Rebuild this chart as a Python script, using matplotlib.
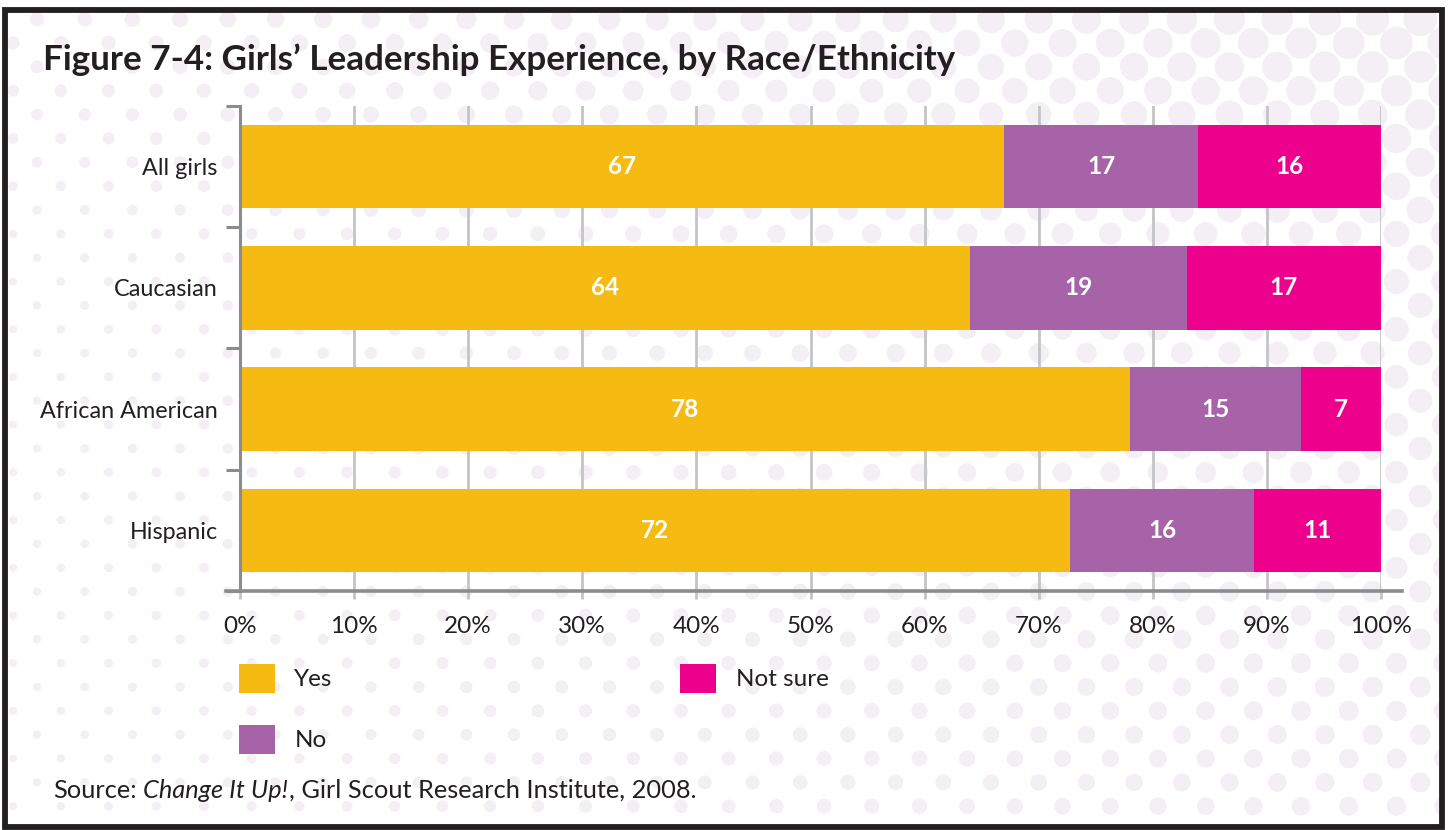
import numpy as np
import matplotlib
matplotlib.use("Agg")
import matplotlib.pyplot as plt
from matplotlib.patches import Rectangle

# data
groups = ["All girls", "Caucasian", "African American", "Hispanic"]
yes = [67, 64, 78, 72]
no = [17, 19, 15, 16]
not_sure = [16, 17, 7, 11]
series_names = ["Yes", "No", "Not sure"]
colors = ["#F5BB13", "#A663A8", "#EC008C"]
x_ticks = [0, 10, 20, 30, 40, 50, 60, 70, 80, 90, 100]

W, H = 1448, 830
TXT = "#231F20"
plt.rcParams["font.family"] = ["Lato", "DejaVu Sans"]

fig = plt.figure(figsize=(W / 100, H / 100), dpi=100, facecolor="white")

# background: polka dots + frame (in pixel coords)
bg = fig.add_axes([0, 0, 1, 1], zorder=0)
bg.set_xlim(0, W)
bg.set_ylim(H, 0)
bg.axis("off")
dx, dy = 47.7, 23.85
pts_x, pts_y, sizes = [], [], []
for k in range(-10, 30):
    yy = 210 + dy * k
    if yy < 0 or yy > H:
        continue
    x0 = 37 if k % 2 == 0 else 37 - dx / 2
    for xx in np.arange(x0, W + dx, dx):
        d = 8 + 21 * (xx / W) * (1 - 0.45 * yy / H) + 6 * max(0, 1 - yy / 250)
        pts_x.append(xx)
        pts_y.append(yy)
        sizes.append((d * 0.72) ** 2)
dots = bg.scatter(pts_x, pts_y, s=sizes, color="#F4EEF5", linewidths=0)
clip = Rectangle((5, 10), 1437, 817, transform=bg.transData, fill=False)
dots.set_clip_path(clip)
bg.add_patch(Rectangle((5, 10), 1437, 817, fill=False, edgecolor=TXT, linewidth=4.2))

# title
fig.text(43 / W, 1 - 60 / H, "Figure 7-4: Girls\u2019 Leadership Experience, by Race/Ethnicity",
         fontsize=25.2, fontweight="bold", color=TXT, va="center", ha="left")

# main chart
ax = fig.add_axes([240 / W, 1 - 591 / H, (1381 - 240) / W, (591 - 106) / H], zorder=2)
ax.patch.set_alpha(0)

vals = np.array([yes, no, not_sure], dtype=float)
shares = vals / vals.sum(axis=0) * 100
ypos = np.arange(len(groups))
left = np.zeros(len(groups))
for i, name in enumerate(series_names):
    bars = ax.barh(ypos, shares[i], left=left, height=0.69, color=colors[i],
                   linewidth=0, label=name, zorder=3)
    for j, b in enumerate(bars):
        ax.text(left[j] + shares[i][j] / 2, ypos[j], f"{int(vals[i][j])}",
                ha="center", va="center", color="white", fontsize=17.5,
                fontweight="bold", zorder=4)
    left += shares[i]

ax.set_xlim(0, 100)
ax.set_ylim(len(groups) - 0.5, -0.5)
ax.set_xticks(x_ticks)
ax.set_xticklabels([f"{t}%" for t in x_ticks], fontsize=17.5, color=TXT)
ax.tick_params(axis="x", length=6, width=2, color="#C4C4C6", pad=12)
ax.grid(axis="x", color="#C4C4C6", linewidth=2, zorder=1)
ax.set_axisbelow(True)

ax.set_yticks(ypos)
ax.set_yticklabels(groups, fontsize=16.8, color=TXT)
ax.tick_params(axis="y", which="major", length=0, pad=16)
ax.set_yticks(np.arange(len(groups) + 1) - 0.5, minor=True)
ax.tick_params(axis="y", which="minor", length=10, width=2.2, color="#8C8C8E")

for s in ["top", "right", "bottom"]:
    ax.spines[s].set_visible(False)
ax.spines["left"].set_color("#8C8C8E")
ax.spines["left"].set_linewidth(2.2)
ax.spines["left"].set_zorder(5)
ax.plot([-14 / 1141 * 100, 100 + 21 / 1141 * 100], [3.5, 3.5], color="#8C8C8E",
        linewidth=2.6, clip_on=False, zorder=5)

leg = ax.legend(loc="upper left", bbox_to_anchor=(-0.001, -0.15), ncol=2, frameon=False,
                fontsize=17.5, handlelength=1.48, handleheight=1.48, handletextpad=0.8,
                labelspacing=1.3, columnspacing=14.3, borderpad=0, borderaxespad=0)
for t in leg.get_texts():
    t.set_color(TXT)

# source line
y_src = 1 - 790 / H
t1 = fig.text(53 / W, y_src, "Source:", fontsize=18.3, color=TXT, va="center", ha="left")
fig.canvas.draw()
x_next = t1.get_window_extent().x1 + 6
t2 = fig.text(x_next / W, y_src, "Change It Up!", fontsize=18.3, color=TXT,
              va="center", ha="left", style="italic")
fig.canvas.draw()
x_next = t2.get_window_extent().x1 + 1
fig.text(x_next / W, y_src, ", Girl Scout Research Institute, 2008.", fontsize=18.3,
         color=TXT, va="center", ha="left")

fig.savefig("out.png", dpi=100, facecolor="white")
